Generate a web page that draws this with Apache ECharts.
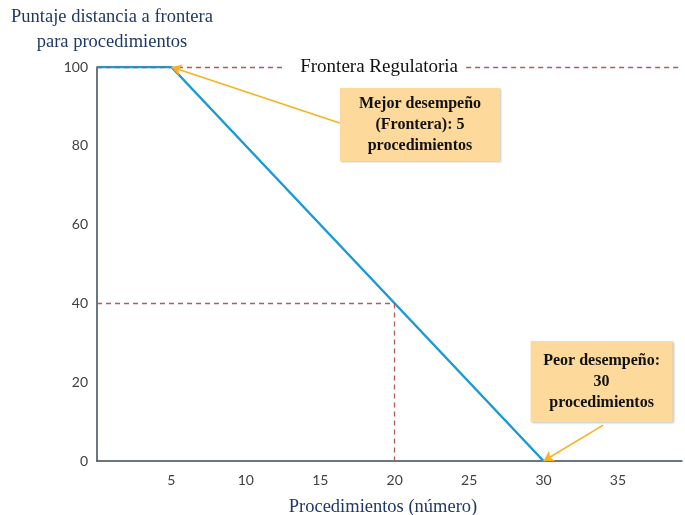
<!DOCTYPE html>
<html><head><meta charset="utf-8">
<script src="https://cdn.jsdelivr.net/npm/echarts@6/dist/echarts.min.js"></script>
<style>html,body{margin:0;padding:0;background:#fff}#c{width:685px;height:515px}</style>
</head><body><div id="c"></div>
<script>
// Data
const procedimientos = [0, 5, 30];
const puntaje = [100, 100, 0];
const xTicks = [5, 10, 15, 20, 25, 30, 35];
const yTicks = [0, 20, 40, 60, 80, 100];
const fronteraValor = 100;
const ejemplo = [20, 40];
const mejor = [5, 100];
const peor = [30, 0];
const yTitle = 'Puntaje distancia a frontera\npara procedimientos';
const xTitle = 'Procedimientos (número)';
const fronteraLabel = 'Frontera Regulatoria';
const mejorLabel = 'Mejor desempeño\n(Frontera): 5\nprocedimientos';
const peorLabel = 'Peor desempeño:\n30\nprocedimientos';

const serif = '"Liberation Serif", "Times New Roman", serif';
const sans = 'Lato, "Open Sans", sans-serif';
const dashRed = '#b05a5c';
const orange = '#f5b223';
const boxFill = '#fdd99b';

const chart = echarts.init(document.getElementById('c'));
const boxLabel = (txt) => ({
  show: true, formatter: txt, color: '#111', fontFamily: serif, fontWeight: 'bold',
  fontSize: 16, lineHeight: 21, align: 'center', verticalAlign: 'middle',
  backgroundColor: boxFill, padding: [5, 8, 5, 8],
  shadowColor: 'rgba(0,0,0,0.25)', shadowBlur: 2, shadowOffsetX: 1, shadowOffsetY: 1
});
chart.setOption({
  animation: false,
  grid: { left: 97, top: 67, right: 0, bottom: 54, containLabel: false },
  xAxis: {
    type: 'value', min: 0, max: 39.3, interval: 5,
    axisLine: { show: true, lineStyle: { color: '#3b4a5c', width: 1.5 } },
    axisTick: { show: false }, splitLine: { show: false },
    axisLabel: { color: '#404040', fontFamily: sans, fontSize: 14, margin: 12,
      formatter: v => xTicks.includes(v) ? String(v) : '' }
  },
  yAxis: {
    type: 'value', min: 0, max: 100, interval: 20,
    axisLine: { show: true, lineStyle: { color: '#3b4a5c', width: 1.5 } },
    axisTick: { show: false }, splitLine: { show: false },
    axisLabel: { color: '#404040', fontFamily: sans, fontSize: 14, margin: 9,
      formatter: v => yTicks.includes(v) ? String(v) : '' }
  },
  graphic: [
    { type: 'text', x: 112, y: 5, style: { text: yTitle, fill: '#1f3864', font: '18.5px ' + serif, textAlign: 'center', lineHeight: 25 } },
    { type: 'text', x: 383, y: 498, style: { text: xTitle, fill: '#1f3864', font: '18.5px ' + serif, textAlign: 'center' } }
  ],
  series: [
    {
      type: 'line', data: procedimientos.map((x, i) => [x, puntaje[i]]),
      symbol: 'none', lineStyle: { color: '#1b9ad6', width: 2.5 }, z: 3,
      markLine: {
        silent: true, symbol: ['none', 'none'], label: { show: false },
        lineStyle: { color: dashRed, type: [5, 4], width: 1.3 },
        data: [
          [{ coord: [0, ejemplo[1]] }, { coord: [ejemplo[0], ejemplo[1]] }],
          [{ coord: [ejemplo[0], ejemplo[1]] }, { coord: [ejemplo[0], 0] }],
          [{ coord: [0, fronteraValor] }, { coord: [12.7, fronteraValor] }],
          [{ coord: [24.8, fronteraValor] }, { coord: [39.3, fronteraValor] }]
        ]
      }
    },
    {
      type: 'line', data: [], z: 4,
      markLine: {
        silent: true, symbol: ['none', 'arrow'], symbolSize: [9, 10], label: { show: false },
        lineStyle: { color: orange, type: 'solid', width: 1.5 },
        data: [
          [{ coord: [16.3, 85.8] }, { coord: mejor }],
          [{ coord: [34.0, 9.1] }, { coord: peor }]
        ]
      },
      markPoint: {
        silent: true, symbol: 'rect', symbolSize: 0,
        data: [
          { coord: [18.95, 100], label: { show: true, formatter: fronteraLabel, color: '#111', fontFamily: serif, fontSize: 19, position: 'inside', backgroundColor: '#fff', padding: [0, 2] } },
          { coord: [21.7, 85.4], label: Object.assign(boxLabel(mejorLabel), { position: 'inside', width: 144 }) },
          { coord: [33.9, 20.2], label: Object.assign(boxLabel(peorLabel), { position: 'inside', width: 126, padding: [9, 8, 9, 8] }) }
        ]
      }
    }
  ]
});
</script></body></html>
